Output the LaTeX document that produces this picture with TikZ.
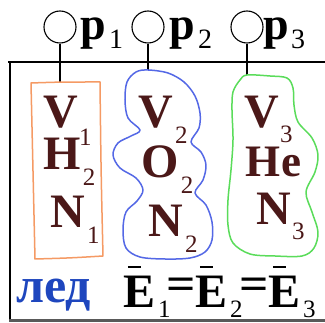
\documentclass[tikz,border=0pt]{standalone}
\usepackage{fontspec}
\setmainfont{Liberation Serif}
\definecolor{brn}{HTML}{4B1818}
\definecolor{ledblue}{HTML}{1E46BE}
\definecolor{orng}{HTML}{F59A64}
\definecolor{blu}{HTML}{5468E6}
\definecolor{grn}{HTML}{5ADC5A}
\newcommand{\subsz}{\fontsize{25}{25}\selectfont\mdseries}
\newcommand{\chem}[3][16pt]{{\bfseries #2}\kern1.5pt\raisebox{-#1}{\subsz #3}}
\newcommand{\ebar}[1]{\rlap{\kern4pt\rule[40pt]{13pt}{2pt}}{\bfseries E}\kern2pt\raisebox{-10pt}{\fontsize{25}{25}\selectfont\mdseries #1}}
\newcommand{\plab}[1]{{\bfseries p}\kern2.5pt\raisebox{-9pt}{\fontsize{28}{28}\selectfont\mdseries #1}}
\newcommand{\eqsign}{\scalebox{1.12}[1]{\bfseries =}}
\begin{document}
\begin{tikzpicture}[x=1pt,y=-1pt,
  lt/.style={anchor=base west,inner sep=0pt,outer sep=0pt,text=brn,font=\fontsize{48}{48}\selectfont},
  eqt/.style={anchor=base west,inner sep=0pt,outer sep=0pt,text=black,font=\fontsize{48}{48}\selectfont},
  plt/.style={anchor=base west,inner sep=0pt,outer sep=0pt,text=black,font=\fontsize{46}{46}\selectfont},
  ring/.style={draw=black,circle,minimum size=32pt,inner sep=0pt,line width=1.1pt},
  stem/.style={draw=black,line width=1.1pt},
  frame/.style={draw=black,line width=1.6pt},
  outl/.style={line width=1.5pt,line join=round}]
\useasboundingbox (0,0) rectangle (325,323);
\fill[white] (0,0) rectangle (325,323);
% frame
\draw[frame] (8,62) -- (325,62);
\draw[frame] (10,62) -- (10,320);
\draw[draw=black!65,line width=2.4pt] (9,320.5) -- (325,320.5);
% manometers
\node[ring] (c1) at (60,27) {};
\node[ring] (c2) at (148,27) {};
\node[ring] (c3) at (247,27) {};
\node[plt] (p1) at (81,40) {\plab{1}};
\node[plt] (p2) at (170,40) {\plab{2}};
\node[plt] (p3) at (263,40) {\plab{3}};
\coordinate (t1) at (60,82);
\coordinate (t2) at (148,70);
\coordinate (t3) at (247,75);
\draw[stem] (c1.south) -- (t1);
\draw[stem] (c2.south) -- (t2);
\draw[stem] (c3.south) -- (t3);
% outlines
\draw[outl,orng] (31,83) .. controls (60,82) .. (100,82) .. controls (101,170) .. (103,256)
  .. controls (70,258) .. (35,259) .. controls (33,170) .. cycle;
\draw[outl,blu] plot[smooth cycle,tension=0.55] coordinates {
  (148,70) (168,73) (184,82) (195,96) (200,113) (199,128) (191,142) (201,152)
  (206,165) (203,180) (195,193) (206,205) (212,222) (212,240) (205,252) (190,258)
  (165,259) (140,257) (126,248) (123,230) (126,212) (137,201) (143,190) (136,178)
  (120,168) (113,155) (118,143) (131,136) (140,130) (128,118) (125,100) (127,82) (136,72)};
\draw[outl,grn] plot[smooth cycle,tension=0.55] coordinates {
  (247,75) (270,76) (287,78) (293,88) (294,105) (298,122) (312,138) (318,155)
  (315,172) (306,192) (312,212) (318,232) (314,248) (302,256) (275,256) (250,254)
  (233,243) (228,225) (228,200) (231,170) (233,140) (232,110) (233,92) (240,80)};
% column 1
\node[lt] (v1) at (43,128) {\chem[18pt]{V}{1}};
\node[lt] (h1) at (44,170) {\chem{H}{2}};
\node[lt] (n1) at (51,228) {\chem{N}{1}};
% column 2
\node[lt] (v2) at (139,128) {\chem{V}{2}};
\node[lt] (o2) at (142,178) {\chem{O}{2}};
\node[lt] (n2) at (149,237) {\chem{N}{2}};
% column 3
\node[lt] (v3) at (244,128) {\chem[15pt]{V}{3}};
\node[lt,font=\fontsize{45}{45}\selectfont] (he3) at (246,177) {\bfseries He};
\node[lt] (n3) at (256,225) {\chem[15pt]{N}{3}};
% bottom
\node[anchor=base west,inner sep=0pt,text=ledblue,font=\fontsize{50}{50}\selectfont\bfseries] (led) at (16,303) {лед};
\node[eqt] (e1) at (124,308) {\ebar{1}};
\node[eqt,font=\fontsize{46}{46}\selectfont] (q1) at (166,300) {\eqsign};
\node[eqt] (e2) at (196,308) {\ebar{2}};
\node[eqt,font=\fontsize{46}{46}\selectfont] (q2) at (240,300) {\eqsign};
\node[eqt] (e3) at (269,308) {\ebar{3}};
\end{tikzpicture}
\end{document}
